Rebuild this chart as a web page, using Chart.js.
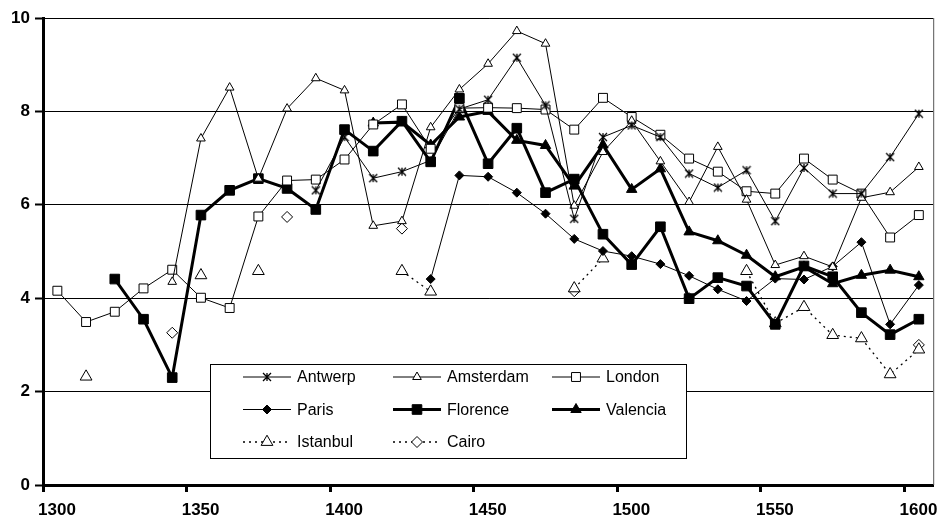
<!DOCTYPE html>
<html>
<head>
<meta charset="utf-8">
<script src="https://cdn.jsdelivr.net/npm/chart.js@4/dist/chart.umd.min.js"></script>
<style>
  html, body { margin: 0; padding: 0; background: #fff; }
  #wrap { width: 941px; height: 516px; }
</style>
</head>
<body>
<div id="wrap"><canvas id="c" width="941" height="516"></canvas></div>
<script>
// decade mid-points
const years = [1305, 1315, 1325, 1335, 1345, 1355, 1365, 1375, 1385, 1395, 1405, 1415, 1425, 1435, 1445, 1455,
  1465, 1475, 1485, 1495, 1505, 1515, 1525, 1535, 1545, 1555, 1565, 1575, 1585, 1595, 1605];

const antwerp = [null, null, null, null, null, null, null, null, null, 6.31, 7.45, 6.57, 6.71, 6.95, 8.05, 8.25,
  9.15, 8.13, 5.70, 7.45, 7.70, 7.45, 6.67, 6.37, 6.74, 5.65, 6.79, 6.24, 6.24, 7.02, 7.95];
const amsterdam = [null, null, null, null, 4.35, 7.42, 8.51, 6.56, 8.06, 8.71, 8.45, 5.55, 5.65, 7.66, 8.47, 9.02,
  9.72, 9.45, 5.98, 7.13, 7.80, 6.93, 6.06, 7.24, 6.11, 4.71, 4.90, 4.67, 6.15, 6.27, 6.81];
const london = [4.16, 3.49, 3.71, 4.21, 4.61, 4.01, 3.79, 5.75, 6.52, 6.54, 6.97, 7.72, 8.15, 7.20, 8.07, 8.08,
  8.07, 8.04, 7.61, 8.29, 7.88, 7.50, 6.99, 6.71, 6.29, 6.24, 6.99, 6.54, 6.24, 5.30, 5.78];
const paris = [null, null, null, null, null, null, null, null, null, null, null, null, null, 4.41, 6.63, 6.60,
  6.26, 5.81, 5.27, 5.01, 4.90, 4.73, 4.48, 4.19, 3.94, 4.42, 4.40, 4.68, 5.20, 3.44, 4.28];
const florence = [null, null, 4.41, 3.55, 2.30, 5.78, 6.31, 6.56, 6.35, 5.90, 7.61, 7.15, 7.79, 6.92, 8.28, 6.88,
  7.64, 6.26, 6.55, 5.37, 4.72, 5.53, 3.99, 4.44, 4.26, 3.44, 4.69, 4.46, 3.69, 3.22, 3.55];
const valencia = [null, null, null, null, null, null, null, null, null, null, null, 7.75, 7.77, 7.28, 7.88, 8.00,
  7.38, 7.27, 6.40, 7.28, 6.33, 6.77, 5.42, 5.23, 4.92, 4.46, 4.67, 4.31, 4.49, 4.60, 4.46];
const istanbul = [null, 2.32, null, null, null, 4.49, null, 4.58, null, null, null, null, 4.58, 4.14, null, null,
  null, null, 4.21, 4.85, null, null, null, null, 4.58, 3.46, 3.81, 3.21, 3.14, 2.37, 2.90];
const cairo = [null, null, null, null, 3.26, null, null, null, 5.74, null, null, null, 5.49, null, null, null,
  null, null, 4.15, null, null, null, 4.00, null, null, null, null, null, null, null, 3.00];

const yTicks = [0, 2, 4, 6, 8, 10];
const xTicks = [1300, 1350, 1400, 1450, 1500, 1550, 1600];

const FONT = "'Liberation Sans', Arial, Helvetica, sans-serif";

// x with a vertical bar, like the old excel star marker
function makeStar(size) {
  const cv = document.createElement('canvas');
  cv.width = size; cv.height = size;
  const g = cv.getContext('2d');
  g.strokeStyle = '#000';
  g.lineWidth = 1.3;
  const m = size / 2, r = size / 2 - 1;
  g.beginPath();
  g.moveTo(m - r, m - r); g.lineTo(m + r, m + r);
  g.moveTo(m + r, m - r); g.lineTo(m - r, m + r);
  g.moveTo(m, m - r); g.lineTo(m, m + r);
  g.stroke();
  return cv;
}
const star = makeStar(10);

function pts(arr) {
  return years.map((x, i) => ({ x: x, y: arr[i] }));
}

function series(label, arr, o) {
  return Object.assign({
    label: label,
    data: pts(arr),
    borderColor: '#000',
    borderWidth: 1,
    pointBorderColor: '#000',
    pointBorderWidth: 1,
    tension: 0,
    spanGaps: false
  }, o);
}

const datasets = [
  series('Antwerp', antwerp, { pointStyle: star, pointRadius: 5, pointBackgroundColor: '#000' }),
  series('Amsterdam', amsterdam, { pointStyle: 'triangle', pointRadius: 5, pointBackgroundColor: '#fff' }),
  series('London', london, { pointStyle: 'rect', pointRadius: 6.3, pointBackgroundColor: '#fff' }),
  series('Paris', paris, { pointStyle: 'rectRot', pointRadius: 4.5, pointBackgroundColor: '#000' }),
  series('Florence', florence, { borderWidth: 3, pointStyle: 'rect', pointRadius: 6.8, pointBackgroundColor: '#000' }),
  series('Valencia', valencia, { borderWidth: 3, pointStyle: 'triangle', pointRadius: 6, pointBackgroundColor: '#000' }),
  series('Istanbul', istanbul, { borderWidth: 1.3, borderDash: [2, 4], pointStyle: 'triangle', pointRadius: 6.8, pointBackgroundColor: '#fff' }),
  series('Cairo', cairo, { borderWidth: 1.3, borderDash: [2, 4], pointStyle: 'rectRot', pointRadius: 5.5, pointBackgroundColor: '#fff' })
];

function marker(ctx, ds, x, y) {
  const st = ds.pointStyle, r = ds.pointRadius;
  ctx.save();
  ctx.fillStyle = ds.pointBackgroundColor;
  ctx.strokeStyle = '#000';
  ctx.lineWidth = 1;
  ctx.setLineDash([]);
  if (typeof st === 'object') {
    ctx.drawImage(st, x - st.width / 2, y - st.height / 2);
    ctx.restore();
    return;
  }
  ctx.beginPath();
  if (st === 'rect') {
    const s = r * Math.SQRT1_2;
    ctx.rect(x - s, y - s, 2 * s, 2 * s);
  } else if (st === 'rectRot') {
    ctx.moveTo(x, y - r); ctx.lineTo(x + r, y); ctx.lineTo(x, y + r); ctx.lineTo(x - r, y);
    ctx.closePath();
  } else if (st === 'triangle') {
    ctx.moveTo(x, y - r);
    ctx.lineTo(x + r * Math.sin(Math.PI * 2 / 3), y + r / 2);
    ctx.lineTo(x - r * Math.sin(Math.PI * 2 / 3), y + r / 2);
    ctx.closePath();
  }
  ctx.fill();
  ctx.stroke();
  ctx.restore();
}

// legend box inside the plot + thin frame on the right
const boxLegend = {
  id: 'boxLegend',
  afterDraw(chart) {
    const ctx = chart.ctx;
    const a = chart.chartArea;
    ctx.save();
    ctx.strokeStyle = '#555';
    ctx.lineWidth = 1;
    ctx.beginPath();
    ctx.moveTo(a.right + 0.5, a.top);
    ctx.lineTo(a.right + 0.5, a.bottom);
    ctx.stroke();

    const bx = 210, by = 364, bw = 476, bh = 94;
    ctx.fillStyle = '#fff';
    ctx.fillRect(bx, by, bw, bh);
    ctx.strokeStyle = '#000';
    ctx.strokeRect(bx + 0.5, by + 0.5, bw, bh);

    const cols = [243, 393, 552];
    const rows = [377, 409.5, 442];
    ctx.font = '16px ' + FONT;
    ctx.textBaseline = 'middle';
    ctx.textAlign = 'left';
    chart.data.datasets.forEach((ds, i) => {
      const x = cols[i % 3], y = rows[Math.floor(i / 3)];
      ctx.save();
      ctx.strokeStyle = '#000';
      ctx.lineWidth = ds.borderWidth;
      ctx.setLineDash(ds.borderDash || []);
      ctx.beginPath();
      ctx.moveTo(x, y);
      ctx.lineTo(x + 48, y);
      ctx.stroke();
      ctx.restore();
      marker(ctx, ds, x + 24, y);
      ctx.fillStyle = '#000';
      ctx.fillText(ds.label, x + 54, y + 1);
    });
    ctx.restore();
  }
};

new Chart(document.getElementById('c'), {
  type: 'line',
  data: { datasets: datasets },
  plugins: [boxLegend],
  options: {
    responsive: false,
    animation: false,
    events: [],
    layout: { padding: { top: 18, right: 7, left: 0, bottom: 0 } },
    plugins: {
      legend: { display: false },
      tooltip: { enabled: false }
    },
    scales: {
      x: {
        type: 'linear',
        min: 1300,
        max: 1610,
        afterFit(s) { s.height = 31; },
        afterBuildTicks(s) { s.ticks = xTicks.map(v => ({ value: v })); },
        border: { display: true, color: '#000', width: 3 },
        grid: { drawOnChartArea: false, drawTicks: true, tickLength: 7, tickWidth: 3, tickColor: '#000' },
        ticks: {
          includeBounds: false,
          autoSkip: false,
          maxRotation: 0,
          labelOffset: 14,
          padding: 8,
          color: '#000',
          font: { family: FONT, size: 17, weight: 'bold' },
          callback: v => String(v)
        }
      },
      y: {
        min: 0,
        max: 10,
        afterFit(s) { s.width = 43; },
        afterBuildTicks(s) { s.ticks = yTicks.map(v => ({ value: v })); },
        border: { display: true, color: '#000', width: 3 },
        grid: { color: '#000', lineWidth: 1, drawTicks: true, tickLength: 8, tickWidth: 2, tickColor: '#000' },
        ticks: {
          padding: 5,
          color: '#000',
          font: { family: FONT, size: 17, weight: 'bold' },
          callback: v => String(v)
        }
      }
    }
  }
});
</script>
</body>
</html>
